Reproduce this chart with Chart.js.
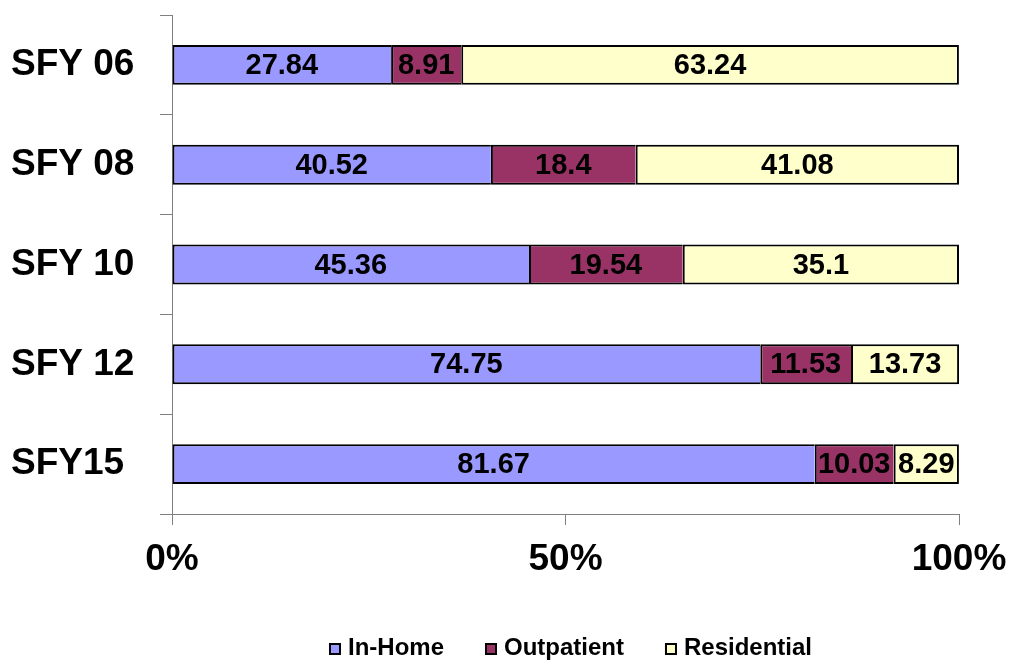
<!DOCTYPE html>
<html>
<head>
<meta charset="utf-8">
<script src="https://cdn.jsdelivr.net/npm/chart.js@4.4.0/dist/chart.umd.min.js"></script>
<style>
html,body{margin:0;padding:0;background:#fff;}
#wrap{width:1013px;height:661px;position:relative;}
</style>
</head>
<body>
<div id="wrap"><canvas id="c" width="1013" height="661"></canvas></div>
<script>
const categories = ['SFY 06', 'SFY 08', 'SFY 10', 'SFY 12', 'SFY15'];
const inHome      = [27.84, 40.52, 45.36, 74.75, 81.67];
const outpatient  = [8.91, 18.4, 19.54, 11.53, 10.03];
const residential = [63.24, 41.08, 35.1, 13.73, 8.29];
const seriesNames = ['In-Home', 'Outpatient', 'Residential'];
const seriesColors = ['#9999FF', '#993366', '#FFFFCC'];
const xTicks = [0, 50, 100];

const FONT = "'Liberation Sans', Arial, sans-serif";

const valueLabels = {
  id: 'valueLabels',
  afterDatasetsDraw(chart) {
    const ctx = chart.ctx;
    ctx.save();
    ctx.font = 'bold 29px ' + FONT;
    ctx.fillStyle = '#000';
    ctx.textAlign = 'center';
    ctx.textBaseline = 'middle';
    chart.data.datasets.forEach((ds, di) => {
      const meta = chart.getDatasetMeta(di);
      meta.data.forEach((el, i) => {
        const p = el.getProps(['x', 'y', 'base'], true);
        const cx = (p.x + p.base) / 2;
        ctx.fillText(String(ds.data[i]), cx, p.y + 1);
      });
    });
    ctx.restore();
  }
};

const customLegend = {
  id: 'customLegend',
  afterDraw(chart) {
    const ctx = chart.ctx;
    const ca = chart.chartArea;
    ctx.save();
    ctx.font = 'bold 24px ' + FONT;
    ctx.textBaseline = 'middle';
    ctx.textAlign = 'left';
    const box = 12, gapText = 7, gapItem = 41;
    const widths = seriesNames.map(n => box + gapText + ctx.measureText(n).width);
    const total = widths.reduce((a, b) => a + b, 0) + gapItem * (seriesNames.length - 1);
    let x = (ca.left + ca.right) / 2 + 5 - total / 2;
    const y = 648;
    seriesNames.forEach((n, i) => {
      ctx.fillStyle = seriesColors[i];
      ctx.fillRect(x, y - box / 2 + 1, box, box);
      ctx.strokeStyle = '#000';
      ctx.lineWidth = 2;
      ctx.strokeRect(x + 1, y - box / 2 + 2, box - 2, box - 2);
      ctx.fillStyle = '#000';
      ctx.fillText(n, x + box + gapText, y);
      x += widths[i] + gapItem;
    });
    ctx.restore();
  }
};

const mid = {left: 2, top: 2, bottom: 2, right: 0};
const last = {left: 2, top: 2, bottom: 2, right: 2};

function zeroPad(scale) {
  scale.paddingTop = 0; scale.paddingBottom = 0;
  scale.paddingLeft = 0; scale.paddingRight = 0;
}

new Chart(document.getElementById('c'), {
  type: 'bar',
  data: {
    labels: categories,
    datasets: [
      {label: seriesNames[0], data: inHome, backgroundColor: seriesColors[0], borderColor: '#000', borderWidth: mid, borderSkipped: false},
      {label: seriesNames[1], data: outpatient, backgroundColor: seriesColors[1], borderColor: '#000', borderWidth: mid, borderSkipped: false},
      {label: seriesNames[2], data: residential, backgroundColor: seriesColors[2], borderColor: '#000', borderWidth: last, borderSkipped: false}
    ]
  },
  options: {
    indexAxis: 'y',
    responsive: false,
    animation: false,
    devicePixelRatio: 1,
    layout: {padding: {left: 11, top: 15, right: 54, bottom: 72}},
    datasets: {bar: {categoryPercentage: 1, barPercentage: 0.4}},
    scales: {
      x: {
        stacked: true,
        min: 0, max: 100,
        afterBuildTicks(scale) { scale.ticks = xTicks.map(v => ({value: v})); },
        afterFit(scale) { scale.height = 75; zeroPad(scale); },
        grid: {drawOnChartArea: false, drawTicks: true, tickLength: 11, color: '#808080', lineWidth: 1},
        border: {display: true, color: '#808080', width: 1},
        ticks: {
          font: {family: FONT, size: 37, weight: 'bold'},
          color: '#000',
          padding: 13,
          maxRotation: 0,
          callback: v => v + '%'
        }
      },
      y: {
        stacked: true,
        afterFit(scale) { scale.width = 161; zeroPad(scale); },
        grid: {drawOnChartArea: false, drawTicks: true, tickLength: 12, color: '#808080', lineWidth: 1, offset: true},
        border: {display: true, color: '#808080', width: 1},
        ticks: {
          font: {family: FONT, size: 37, weight: 'bold'},
          color: '#000',
          crossAlign: 'far',
          padding: 8
        }
      }
    },
    plugins: {
      legend: {display: false},
      tooltip: {enabled: false}
    }
  },
  plugins: [valueLabels, customLegend]
});
</script>
</body>
</html>
